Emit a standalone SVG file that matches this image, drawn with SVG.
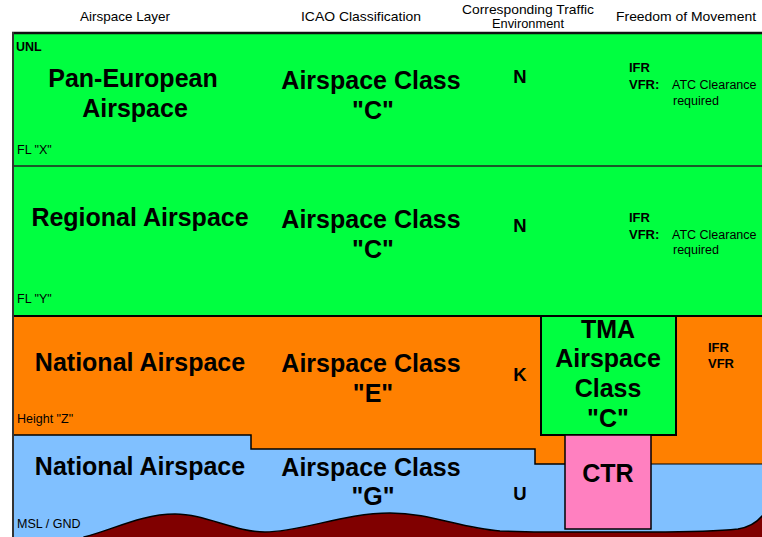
<svg xmlns="http://www.w3.org/2000/svg" width="762" height="537" viewBox="0 0 762 537">
  <style>
    text { font-family: "Liberation Sans", Arial, sans-serif; fill: #000; }
    .hdr { font-size: 13.5px; text-anchor: middle; }
    .big { font-size: 25px; font-weight: bold; text-anchor: middle; }
    .env { font-size: 18.5px; font-weight: bold; text-anchor: middle; }
    .lvl { font-size: 12.5px; }
    .lvlb { font-size: 12.5px; font-weight: bold; }
    .fr { font-size: 13px; font-weight: bold; }
    .atc { font-size: 12.5px; }
    .edge { fill: none; stroke: #000; stroke-width: 1.5; }
  </style>
  <rect x="0" y="0" width="762" height="537" fill="#ffffff"/>

  <g id="header">
    <text class="hdr" x="125" y="21" textLength="90" lengthAdjust="spacingAndGlyphs">Airspace Layer</text>
    <text class="hdr" x="361" y="21" textLength="120" lengthAdjust="spacingAndGlyphs">ICAO Classification</text>
    <text class="hdr" x="528" y="14" textLength="132" lengthAdjust="spacingAndGlyphs">Corresponding Traffic</text>
    <text class="hdr" x="528" y="28" textLength="72" lengthAdjust="spacingAndGlyphs">Environment</text>
    <text class="hdr" x="686" y="21" textLength="140" lengthAdjust="spacingAndGlyphs">Freedom of Movement</text>
  </g>

  <g id="layer-pan-european">
    <rect x="13" y="33" width="749" height="133" fill="#00FF40"/>
    <text class="lvlb" x="16" y="51">UNL</text>
    <text class="big" x="133" y="87">Pan-European</text>
    <text class="big" x="135" y="117">Airspace</text>
    <text class="big" x="371" y="89">Airspace Class</text>
    <text class="big" x="373" y="119">"C"</text>
    <text class="env" x="520" y="83">N</text>
    <text class="fr" x="629" y="72">IFR</text>
    <text class="fr" x="629" y="89">VFR:</text>
    <text class="atc" x="672" y="89">ATC Clearance</text>
    <text class="atc" x="673" y="105">required</text>
    <text class="lvl" x="17" y="154">FL "X"</text>
  </g>

  <g id="layer-regional">
    <rect x="13" y="166" width="749" height="150" fill="#00FF40"/>
    <text class="big" x="140" y="226">Regional Airspace</text>
    <text class="big" x="371" y="228">Airspace Class</text>
    <text class="big" x="373" y="258">"C"</text>
    <text class="env" x="520" y="232">N</text>
    <text class="fr" x="629" y="222">IFR</text>
    <text class="fr" x="629" y="239">VFR:</text>
    <text class="atc" x="672" y="239">ATC Clearance</text>
    <text class="atc" x="673" y="254">required</text>
    <text class="lvl" x="17" y="303">FL "Y"</text>
  </g>

  <g id="layer-national-e">
    <rect x="13" y="316" width="749" height="150" fill="#FF8000"/>
    <text class="big" x="140" y="371">National Airspace</text>
    <text class="big" x="371" y="372">Airspace Class</text>
    <text class="big" x="373" y="402">"E"</text>
    <text class="env" x="520" y="381">K</text>
    <text class="fr" x="708" y="352">IFR</text>
    <text class="fr" x="708" y="368">VFR</text>
    <text class="lvl" x="17" y="423">Height "Z"</text>
  </g>

  <g id="layer-national-g">
    <polygon points="13,435 251,435 251,449 535,449 535,464 762,464 762,537 13,537" fill="#80C0FF"/>
    <polyline class="edge" points="13,435 251,435 251,449 535,449 535,464 565,464"/>
    <line x1="651" y1="464" x2="762" y2="464" stroke="#000" stroke-width="1.2"/>
    <text class="big" x="140" y="475">National Airspace</text>
    <text class="big" x="371" y="476">Airspace Class</text>
    <text class="big" x="373" y="505">"G"</text>
    <text class="env" x="520" y="500">U</text>
  </g>

  <g id="ground">
    <path d="M 84,537 C 112,530 142,514 175,514 C 205,514 235,532 265,532 C 300,532 345,513 390,513 C 430,513 460,528 500,531 L 534,532 L 651,532 C 690,532 720,531 738,529 C 750,527 757,522 762,516 L 775,516 L 775,545 L 84,545 Z" fill="#800000" stroke="#000" stroke-width="1.5"/>
    <text class="lvl" x="17" y="528">MSL / GND</text>
  </g>

  <g id="tma">
    <rect x="541" y="316" width="135" height="119" fill="#00FF40" stroke="#000" stroke-width="2"/>
    <text class="big" x="608" y="338">TMA</text>
    <text class="big" x="608" y="367">Airspace</text>
    <text class="big" x="608" y="397">Class</text>
    <text class="big" x="608" y="427">"C"</text>
  </g>

  <g id="ctr">
    <rect x="565" y="435" width="86" height="94" fill="#FF80C0" stroke="#000" stroke-width="1.5"/>
    <text class="big" x="608" y="482">CTR</text>
  </g>

  <g id="connectors">
    <line x1="13" y1="166" x2="762" y2="166" stroke="#222" stroke-width="1.5"/>
    <line x1="13" y1="316" x2="762" y2="316" stroke="#000" stroke-width="2"/>
    <line x1="12" y1="33" x2="762" y2="33" stroke="#111" stroke-width="2.5"/>
    <line x1="13" y1="32" x2="13" y2="537" stroke="#333" stroke-width="2"/>
  </g>
</svg>
